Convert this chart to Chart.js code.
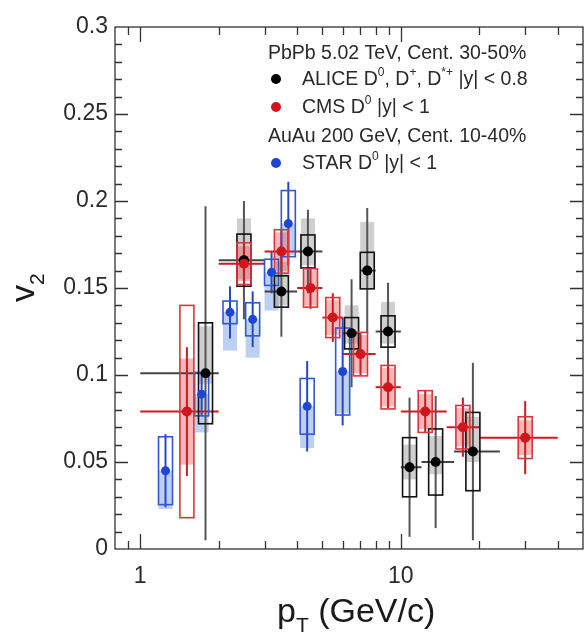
<!DOCTYPE html>
<html>
<head>
<meta charset="utf-8">
<title>D-meson v2 vs pT</title>
<script src="https://cdn.jsdelivr.net/npm/chart.js@4/dist/chart.umd.min.js"></script>
<style>
  html, body { margin: 0; padding: 0; background: #fff; }
  canvas { display: block; }
</style>
</head>
<body>
<canvas id="chart" width="588" height="638"></canvas>
<script>
// ALICE D0, D+, D*+ |y| < 0.8, PbPb 5.02 TeV, 30-50%
const alicePt    = [1.78, 2.5, 3.48, 4.4, 6.47, 7.43, 8.93, 10.8, 13.6, 18.9];
const aliceV2    = [0.101, 0.166, 0.148, 0.171, 0.124, 0.160, 0.125, 0.047, 0.050, 0.056];
const aliceStat  = [0.096, 0.034, 0.026, 0.024, 0.031, 0.036, 0.028, 0.040, 0.038, 0.051];
const aliceSys   = [0.029, 0.015, 0.009, 0.0095, 0.009, 0.0105, 0.009, 0.017, 0.019, 0.0225];
const aliceFdLo  = [0.095, 0.155, 0.140, 0.163, 0.118, 0.150, 0.118, 0.040, 0.043, 0.050];
const aliceFdHi  = [0.128, 0.190, 0.165, 0.190, 0.140, 0.188, 0.142, 0.060, 0.065, 0.076];
const aliceBinLo = [1, 2, 3, 4, 6, 7, 8, 10, 12, 16];
const aliceBinHi = [2, 3, 4, 5, 7, 8, 10, 12, 16, 24];

// CMS D0 |y| < 1, PbPb 5.02 TeV, 30-50%
const cmsPt    = [1.51, 2.5, 3.48, 4.5, 5.48, 7.0, 8.93, 12.4, 17.3, 30];
const cmsV2    = [0.079, 0.164, 0.171, 0.150, 0.133, 0.112, 0.093, 0.079, 0.070, 0.064];
const cmsStat  = [0.037, 0.012, 0.013, 0.012, 0.014, 0.012, 0.012, 0.012, 0.017, 0.021];
const cmsSys   = [0.061, 0.012, 0.0125, 0.011, 0.0115, 0.0125, 0.0125, 0.012, 0.0125, 0.012];
const cmsFd    = [0.0305, 0.010, 0.011, 0.010, 0.010, 0.011, 0.011, 0.010, 0.011, 0.010];
const cmsBinLo = [1, 2, 3, 4, 5, 6, 8, 10, 15, 20];
const cmsBinHi = [2, 3, 4, 5, 6, 8, 10, 15, 20, 40];

// STAR D0 |y| < 1, AuAu 200 GeV, 10-40%
const starPt      = [1.25, 1.72, 2.21, 2.70, 3.19, 3.70, 4.37, 5.98];
const starV2      = [0.045, 0.089, 0.136, 0.132, 0.159, 0.187, 0.082, 0.102];
const starStat    = [0.021, 0.012, 0.015, 0.016, 0.012, 0.024, 0.026, 0.031];
const starSys     = [0.0195, 0.0125, 0.0065, 0.0095, 0.0075, 0.019, 0.016, 0.025];
const starNonflow = [0.022, 0.022, 0.022, 0.022, 0.022, 0.018, 0.024, 0.024];

const xTicks = [1, 10];
const xTickLabels = ['1', '10'];
const yTicks = [0, 0.05, 0.1, 0.15, 0.2, 0.25, 0.3];
const yTickLabels = ['0', '0.05', '0.1', '0.15', '0.2', '0.25', '0.3'];

const FONT = '"Liberation Sans", Arial, Helvetica, sans-serif';
const BOX_HALF = 7;   // half width of the systematic boxes in px
const TEXT = '#2a2a2a';

const pts = (xs, ys) => xs.map((v, i) => ({ x: v, y: ys[i] }));

// fills, error bars and boxes under the markers
const errorBars = {
  id: 'errorBars',
  beforeDatasetsDraw(chart) {
    const { ctx, chartArea: a, scales: { x, y } } = chart;
    const px = v => x.getPixelForValue(v);
    const py = v => y.getPixelForValue(v);
    ctx.save();
    ctx.beginPath();
    ctx.rect(a.left, a.top, a.right - a.left, a.bottom - a.top);
    ctx.clip();

    const fillBox = (xc, lo, hi, color) => {
      ctx.fillStyle = color;
      const t = py(hi), b = py(lo);
      ctx.fillRect(xc - BOX_HALF, t, BOX_HALF * 2, b - t);
    };
    const strokeBox = (xc, lo, hi, color) => {
      ctx.strokeStyle = color;
      ctx.lineWidth = 1.6;
      const t = py(hi), b = py(lo);
      ctx.strokeRect(xc - BOX_HALF, t, BOX_HALF * 2, b - t);
    };
    const line = (x1, y1, x2, y2, color) => {
      ctx.strokeStyle = color;
      ctx.lineWidth = 2;
      ctx.beginPath();
      ctx.moveTo(x1, y1);
      ctx.lineTo(x2, y2);
      ctx.stroke();
    };

    // shaded bands
    starPt.forEach((p, i) => fillBox(px(p), starV2[i] - starNonflow[i], starV2[i], 'rgba(110,150,225,0.45)'));
    alicePt.forEach((p, i) => fillBox(px(p), aliceFdLo[i], aliceFdHi[i], 'rgba(140,140,140,0.42)'));
    cmsPt.forEach((p, i) => fillBox(px(p), cmsV2[i] - cmsFd[i], cmsV2[i] + cmsFd[i], 'rgba(232,95,95,0.45)'));

    // statistical errors and bin widths
    starPt.forEach((p, i) => {
      const xc = px(p);
      line(xc, py(starV2[i] - starStat[i]), xc, py(starV2[i] + starStat[i]), '#2448c8');
    });
    alicePt.forEach((p, i) => {
      const xc = px(p), yc = py(aliceV2[i]);
      line(xc, py(aliceV2[i] - aliceStat[i]), xc, py(aliceV2[i] + aliceStat[i]), '#555');
      line(px(aliceBinLo[i]), yc, px(aliceBinHi[i]), yc, '#444');
    });
    cmsPt.forEach((p, i) => {
      const xc = px(p), yc = py(cmsV2[i]);
      line(xc, py(cmsV2[i] - cmsStat[i]), xc, py(cmsV2[i] + cmsStat[i]), '#cc1b22');
      line(px(cmsBinLo[i]), yc, px(cmsBinHi[i]), yc, '#cc1b22');
    });

    // systematic boxes
    starPt.forEach((p, i) => strokeBox(px(p), starV2[i] - starSys[i], starV2[i] + starSys[i], '#3158d2'));
    alicePt.forEach((p, i) => strokeBox(px(p), aliceV2[i] - aliceSys[i], aliceV2[i] + aliceSys[i], '#111'));
    cmsPt.forEach((p, i) => strokeBox(px(p), cmsV2[i] - cmsSys[i], cmsV2[i] + cmsSys[i], '#d8383c'));

    ctx.restore();
  }
};

// frame with inward ticks on all four sides
const frame = {
  id: 'frame',
  afterDraw(chart) {
    const { ctx, chartArea: a, scales: { x, y } } = chart;
    ctx.save();
    ctx.strokeStyle = '#333';
    ctx.lineWidth = 1.3;
    ctx.strokeRect(a.left, a.top, a.right - a.left, a.bottom - a.top);
    ctx.beginPath();
    [0.1, 1, 10].forEach(dec => {
      for (let k = 1; k <= 9; k++) {
        const v = k * dec;
        if (v < x.min * 1.001 || v > x.max * 0.999) continue;
        const len = k === 1 ? 15 : 8;
        const xp = Math.round(x.getPixelForValue(v)) + 0.5;
        ctx.moveTo(xp, a.bottom); ctx.lineTo(xp, a.bottom - len);
        ctx.moveTo(xp, a.top); ctx.lineTo(xp, a.top + len);
      }
    });
    for (let k = 1; k < 30; k++) {
      const len = k % 5 === 0 ? 13 : 7;
      const yp = Math.round(y.getPixelForValue(k / 100)) + 0.5;
      ctx.moveTo(a.left, yp); ctx.lineTo(a.left + len, yp);
      ctx.moveTo(a.right, yp); ctx.lineTo(a.right - len, yp);
    }
    ctx.stroke();
    ctx.restore();
  }
};

// draws a run of text pieces, some raised or lowered
function richText(ctx, x, y, parts, size) {
  parts.forEach(p => {
    const s = p.sub || p.sup ? Math.round(size * 0.62) : size;
    ctx.font = s + 'px ' + FONT;
    const dy = p.sup ? -size * 0.38 : p.sub ? size * 0.3 : 0;
    ctx.fillText(p.t, x, y + dy);
    x += ctx.measureText(p.t).width;
  });
  return x;
}

const labels = {
  id: 'labels',
  afterDraw(chart) {
    const { ctx } = chart;
    ctx.save();
    ctx.fillStyle = TEXT;
    ctx.textBaseline = 'middle';
    ctx.textAlign = 'left';

    // legend
    const ls = 19.5;
    ctx.font = ls + 'px ' + FONT;
    ctx.fillText('PbPb 5.02 TeV, Cent. 30-50%', 268, 54);
    ctx.fillText('AuAu 200 GeV, Cent. 10-40%', 268, 137);
    const dot = (cx, cy, color) => {
      ctx.fillStyle = color;
      ctx.beginPath();
      ctx.arc(cx, cy, 5, 0, Math.PI * 2);
      ctx.fill();
      ctx.fillStyle = TEXT;
    };
    dot(276, 79, '#000');
    richText(ctx, 302, 80, [{ t: 'ALICE D' }, { t: '0', sup: 1 }, { t: ', D' }, { t: '+', sup: 1 },
      { t: ', D' }, { t: '*+', sup: 1 }, { t: ' |y| < 0.8' }], ls);
    dot(276, 107, '#d0161d');
    richText(ctx, 302, 108, [{ t: 'CMS D' }, { t: '0', sup: 1 }, { t: ' |y| < 1' }], ls);
    dot(276, 163, '#1f45d4');
    richText(ctx, 302, 164, [{ t: 'STAR D' }, { t: '0', sup: 1 }, { t: ' |y| < 1' }], ls);

    // axis titles
    ctx.textBaseline = 'alphabetic';
    ctx.fillStyle = '#1a1a1a';
    richText(ctx, 277, 622, [{ t: 'p' }, { t: 'T', sub: 1 }, { t: ' (GeV/c)' }], 34);
    ctx.translate(34, 302);
    ctx.rotate(-Math.PI / 2);
    richText(ctx, 0, 0, [{ t: 'v' }, { t: '2', sub: 1 }], 34);
    ctx.restore();
  }
};

new Chart(document.getElementById('chart'), {
  type: 'scatter',
  data: {
    datasets: [
      { label: 'CMS', data: pts(cmsPt, cmsV2), backgroundColor: '#d0161d', pointRadius: 5, borderWidth: 0 },
      { label: 'ALICE', data: pts(alicePt, aliceV2), backgroundColor: '#000', pointRadius: 5, borderWidth: 0 },
      { label: 'STAR', data: pts(starPt, starV2), backgroundColor: '#1f45d4', pointRadius: 4.5, borderWidth: 0 }
    ]
  },
  options: {
    responsive: false,
    animation: false,
    devicePixelRatio: 1,
    layout: { padding: { top: 27, right: 1, left: 0, bottom: 0 } },
    plugins: { legend: { display: false }, tooltip: { enabled: false } },
    scales: {
      x: {
        type: 'logarithmic',
        min: 0.8,
        max: 50,
        grid: { display: false, drawTicks: false },
        border: { display: false },
        afterBuildTicks: s => { s.ticks = xTicks.map(v => ({ value: v })); },
        afterFit: s => { s.height = 89; },
        ticks: {
          autoSkip: false,
          maxRotation: 0,
          padding: 14,
          color: TEXT,
          font: { family: FONT, size: 23 },
          callback: (v, i) => xTickLabels[i]
        }
      },
      y: {
        min: 0,
        max: 0.3,
        grid: { display: false, drawTicks: false },
        border: { display: false },
        afterBuildTicks: s => { s.ticks = yTicks.map(v => ({ value: v })); },
        afterFit: s => { s.width = 115; },
        ticks: {
          padding: 7,
          color: TEXT,
          font: { family: FONT, size: 23 },
          callback: (v, i) => yTickLabels[i]
        }
      }
    }
  },
  plugins: [errorBars, frame, labels]
});
</script>
</body>
</html>
